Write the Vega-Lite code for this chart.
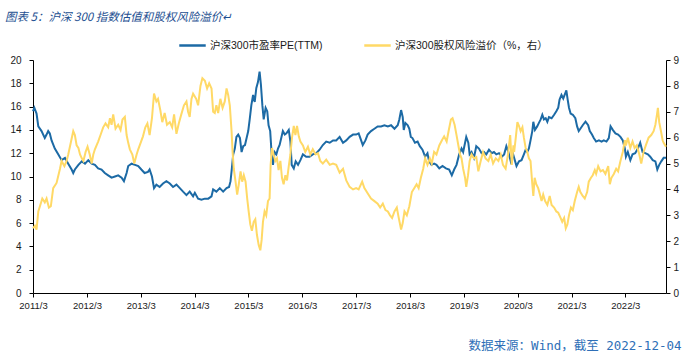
{
  "$schema": "https://vega.github.io/schema/vega-lite/v6.json",
  "autosize": {"type": "none"},
  "width": 633,
  "height": 233,
  "padding": {"left": 33, "top": 60, "right": 17, "bottom": 61},
  "background": "#ffffff",
  "config": {
    "view": {"stroke": null},
    "axis": {"grid": false, "domainColor": "#000000", "tickColor": "#000000", "labelColor": "#1a1a1a", "labelFont": "Liberation Sans", "labelFontSize": 10, "tickSize": 4, "domainWidth": 1, "tickWidth": 1}
  },
  "title": {
    "text": "图表 5：沪深 300 指数估值和股权风险溢价↵",
    "anchor": "start",
    "frame": "group",
    "dx": -28,
    "offset": 8,
    "font": "Noto Sans CJK SC",
    "fontStyle": "italic",
    "fontWeight": "normal",
    "fontSize": 11.5,
    "color": "#1d4f91"
  },
  "datasets": {
    "pe": [
      {"d": "2011-03-01", "v": 15.6}, {"d": "2011-03-10", "v": 15.9}, {"d": "2011-03-25", "v": 15.4}, {"d": "2011-04-06", "v": 14.3},
      {"d": "2011-04-28", "v": 13.9}, {"d": "2011-05-20", "v": 13.3}, {"d": "2011-06-01", "v": 13.6}, {"d": "2011-06-12", "v": 13.9},
      {"d": "2011-06-23", "v": 13.7}, {"d": "2011-07-05", "v": 13.1}, {"d": "2011-07-27", "v": 12.4}, {"d": "2011-08-19", "v": 11.9},
      {"d": "2011-09-11", "v": 11.4}, {"d": "2011-10-04", "v": 11.6}, {"d": "2011-10-26", "v": 11.1}, {"d": "2011-11-18", "v": 10.6},
      {"d": "2011-11-29", "v": 10.3}, {"d": "2011-12-10", "v": 10.6}, {"d": "2012-01-03", "v": 11.0}, {"d": "2012-01-26", "v": 11.3},
      {"d": "2012-02-17", "v": 11.1}, {"d": "2012-03-10", "v": 11.4}, {"d": "2012-04-02", "v": 11.1}, {"d": "2012-04-24", "v": 11.0},
      {"d": "2012-05-16", "v": 10.7}, {"d": "2012-06-08", "v": 10.6}, {"d": "2012-06-30", "v": 10.3}, {"d": "2012-07-23", "v": 10.1},
      {"d": "2012-08-15", "v": 9.9}, {"d": "2012-09-07", "v": 10.0}, {"d": "2012-09-29", "v": 10.1}, {"d": "2012-10-22", "v": 9.9},
      {"d": "2012-11-07", "v": 9.6}, {"d": "2012-11-25", "v": 10.3}, {"d": "2012-12-06", "v": 10.9}, {"d": "2012-12-29", "v": 11.1},
      {"d": "2013-01-21", "v": 11.0}, {"d": "2013-02-12", "v": 10.9}, {"d": "2013-03-05", "v": 10.6}, {"d": "2013-03-27", "v": 10.3},
      {"d": "2013-04-19", "v": 10.4}, {"d": "2013-04-30", "v": 10.6}, {"d": "2013-05-16", "v": 10.0}, {"d": "2013-05-30", "v": 9.0},
      {"d": "2013-06-15", "v": 9.3}, {"d": "2013-07-07", "v": 9.1}, {"d": "2013-07-30", "v": 9.4}, {"d": "2013-08-22", "v": 9.6},
      {"d": "2013-09-14", "v": 9.4}, {"d": "2013-10-06", "v": 9.1}, {"d": "2013-10-29", "v": 9.3}, {"d": "2013-11-21", "v": 9.0},
      {"d": "2013-12-13", "v": 8.7}, {"d": "2014-01-05", "v": 8.4}, {"d": "2014-01-27", "v": 8.7}, {"d": "2014-02-19", "v": 8.3},
      {"d": "2014-03-03", "v": 8.6}, {"d": "2014-03-25", "v": 8.1}, {"d": "2014-04-17", "v": 8.0}, {"d": "2014-05-10", "v": 8.1},
      {"d": "2014-06-02", "v": 8.1}, {"d": "2014-06-24", "v": 8.3}, {"d": "2014-07-05", "v": 8.9}, {"d": "2014-07-27", "v": 8.7},
      {"d": "2014-08-19", "v": 9.0}, {"d": "2014-09-11", "v": 8.7}, {"d": "2014-10-04", "v": 9.0}, {"d": "2014-10-21", "v": 9.1},
      {"d": "2014-10-31", "v": 9.6}, {"d": "2014-11-09", "v": 10.7}, {"d": "2014-11-18", "v": 11.9}, {"d": "2014-11-29", "v": 12.4},
      {"d": "2014-12-10", "v": 13.4}, {"d": "2014-12-22", "v": 13.6}, {"d": "2015-01-03", "v": 13.3}, {"d": "2015-01-14", "v": 12.1},
      {"d": "2015-01-25", "v": 12.6}, {"d": "2015-02-06", "v": 12.7}, {"d": "2015-02-17", "v": 13.3}, {"d": "2015-02-28", "v": 13.9},
      {"d": "2015-03-10", "v": 14.9}, {"d": "2015-03-21", "v": 16.1}, {"d": "2015-04-02", "v": 17.0}, {"d": "2015-04-13", "v": 16.4},
      {"d": "2015-04-24", "v": 17.6}, {"d": "2015-05-05", "v": 18.1}, {"d": "2015-05-16", "v": 19.0}, {"d": "2015-05-25", "v": 17.9},
      {"d": "2015-06-04", "v": 16.1}, {"d": "2015-06-13", "v": 14.9}, {"d": "2015-06-26", "v": 15.9}, {"d": "2015-07-07", "v": 15.6},
      {"d": "2015-07-16", "v": 14.4}, {"d": "2015-07-27", "v": 13.9}, {"d": "2015-08-06", "v": 11.9}, {"d": "2015-08-15", "v": 11.0},
      {"d": "2015-08-26", "v": 12.1}, {"d": "2015-09-07", "v": 11.9}, {"d": "2015-09-18", "v": 12.4}, {"d": "2015-09-29", "v": 12.7},
      {"d": "2015-10-10", "v": 13.3}, {"d": "2015-10-21", "v": 13.9}, {"d": "2015-11-03", "v": 13.6}, {"d": "2015-11-14", "v": 13.7},
      {"d": "2015-11-30", "v": 14.0}, {"d": "2015-12-11", "v": 13.0}, {"d": "2015-12-20", "v": 11.0}, {"d": "2016-01-03", "v": 10.7},
      {"d": "2016-01-16", "v": 11.3}, {"d": "2016-02-01", "v": 11.0}, {"d": "2016-02-17", "v": 11.4}, {"d": "2016-03-05", "v": 11.9},
      {"d": "2016-03-27", "v": 11.7}, {"d": "2016-04-19", "v": 11.7}, {"d": "2016-05-11", "v": 11.9}, {"d": "2016-06-04", "v": 12.0},
      {"d": "2016-06-26", "v": 12.3}, {"d": "2016-07-18", "v": 12.7}, {"d": "2016-08-10", "v": 13.0}, {"d": "2016-09-03", "v": 12.9},
      {"d": "2016-09-25", "v": 13.1}, {"d": "2016-10-17", "v": 13.1}, {"d": "2016-11-09", "v": 13.4}, {"d": "2016-12-02", "v": 12.9},
      {"d": "2016-12-24", "v": 13.1}, {"d": "2017-01-16", "v": 13.4}, {"d": "2017-02-08", "v": 13.6}, {"d": "2017-03-01", "v": 13.6},
      {"d": "2017-03-18", "v": 13.7}, {"d": "2017-04-04", "v": 13.1}, {"d": "2017-04-15", "v": 12.7}, {"d": "2017-05-03", "v": 13.1},
      {"d": "2017-05-18", "v": 13.6}, {"d": "2017-06-10", "v": 13.9}, {"d": "2017-07-03", "v": 14.1}, {"d": "2017-07-25", "v": 14.3},
      {"d": "2017-08-17", "v": 14.3}, {"d": "2017-09-09", "v": 14.4}, {"d": "2017-10-02", "v": 14.3}, {"d": "2017-10-24", "v": 14.4},
      {"d": "2017-11-16", "v": 14.1}, {"d": "2017-12-08", "v": 14.4}, {"d": "2017-12-19", "v": 14.9}, {"d": "2017-12-31", "v": 15.7},
      {"d": "2018-01-11", "v": 15.1}, {"d": "2018-01-18", "v": 14.0}, {"d": "2018-01-29", "v": 14.6}, {"d": "2018-02-14", "v": 14.4},
      {"d": "2018-02-25", "v": 14.1}, {"d": "2018-03-07", "v": 13.4}, {"d": "2018-03-18", "v": 13.3}, {"d": "2018-04-04", "v": 12.9},
      {"d": "2018-04-22", "v": 13.0}, {"d": "2018-05-07", "v": 12.6}, {"d": "2018-05-25", "v": 12.3}, {"d": "2018-06-12", "v": 11.7},
      {"d": "2018-06-28", "v": 12.0}, {"d": "2018-07-09", "v": 11.3}, {"d": "2018-07-25", "v": 11.0}, {"d": "2018-08-12", "v": 11.1},
      {"d": "2018-08-28", "v": 11.0}, {"d": "2018-09-16", "v": 10.7}, {"d": "2018-10-08", "v": 10.9}, {"d": "2018-10-31", "v": 10.7},
      {"d": "2018-11-22", "v": 10.6}, {"d": "2018-12-10", "v": 10.1}, {"d": "2018-12-26", "v": 10.6}, {"d": "2019-01-11", "v": 11.0},
      {"d": "2019-01-29", "v": 11.9}, {"d": "2019-02-14", "v": 12.4}, {"d": "2019-02-25", "v": 12.1}, {"d": "2019-03-10", "v": 12.9},
      {"d": "2019-03-18", "v": 13.4}, {"d": "2019-04-01", "v": 12.9}, {"d": "2019-04-10", "v": 11.9}, {"d": "2019-04-23", "v": 12.1},
      {"d": "2019-05-09", "v": 11.6}, {"d": "2019-05-25", "v": 12.6}, {"d": "2019-06-12", "v": 12.4}, {"d": "2019-06-30", "v": 12.0},
      {"d": "2019-07-16", "v": 12.1}, {"d": "2019-08-01", "v": 11.9}, {"d": "2019-08-19", "v": 12.3}, {"d": "2019-09-07", "v": 12.0},
      {"d": "2019-09-22", "v": 12.1}, {"d": "2019-10-08", "v": 11.9}, {"d": "2019-10-26", "v": 12.0}, {"d": "2019-11-14", "v": 11.7},
      {"d": "2019-11-30", "v": 11.9}, {"d": "2019-12-15", "v": 12.6}, {"d": "2019-12-29", "v": 12.1}, {"d": "2020-01-14", "v": 11.3},
      {"d": "2020-01-30", "v": 11.9}, {"d": "2020-02-22", "v": 10.9}, {"d": "2020-03-10", "v": 11.3}, {"d": "2020-03-27", "v": 11.4},
      {"d": "2020-04-12", "v": 11.9}, {"d": "2020-04-24", "v": 12.3}, {"d": "2020-05-05", "v": 12.1}, {"d": "2020-05-16", "v": 12.4},
      {"d": "2020-05-27", "v": 13.1}, {"d": "2020-06-08", "v": 13.9}, {"d": "2020-06-15", "v": 14.7}, {"d": "2020-06-26", "v": 14.0},
      {"d": "2020-07-11", "v": 14.3}, {"d": "2020-07-23", "v": 14.6}, {"d": "2020-08-04", "v": 14.9}, {"d": "2020-08-15", "v": 15.3},
      {"d": "2020-08-26", "v": 14.9}, {"d": "2020-09-07", "v": 15.0}, {"d": "2020-09-18", "v": 14.7}, {"d": "2020-09-29", "v": 15.1},
      {"d": "2020-10-17", "v": 15.0}, {"d": "2020-11-03", "v": 15.3}, {"d": "2020-11-18", "v": 15.6}, {"d": "2020-12-01", "v": 15.9},
      {"d": "2020-12-10", "v": 16.6}, {"d": "2020-12-23", "v": 17.0}, {"d": "2021-01-04", "v": 16.7}, {"d": "2021-01-16", "v": 17.1},
      {"d": "2021-01-25", "v": 17.4}, {"d": "2021-02-03", "v": 16.6}, {"d": "2021-02-12", "v": 15.9}, {"d": "2021-02-23", "v": 15.4},
      {"d": "2021-03-10", "v": 15.3}, {"d": "2021-03-27", "v": 15.0}, {"d": "2021-04-08", "v": 14.3}, {"d": "2021-04-19", "v": 13.9},
      {"d": "2021-04-30", "v": 14.1}, {"d": "2021-05-16", "v": 14.4}, {"d": "2021-06-04", "v": 14.7}, {"d": "2021-06-22", "v": 14.4},
      {"d": "2021-07-03", "v": 13.9}, {"d": "2021-07-18", "v": 13.6}, {"d": "2021-07-30", "v": 13.3}, {"d": "2021-08-15", "v": 13.0},
      {"d": "2021-09-03", "v": 13.1}, {"d": "2021-09-21", "v": 13.0}, {"d": "2021-10-06", "v": 13.1}, {"d": "2021-10-24", "v": 13.0},
      {"d": "2021-11-09", "v": 13.3}, {"d": "2021-11-21", "v": 14.3}, {"d": "2021-12-06", "v": 14.0}, {"d": "2021-12-24", "v": 13.7},
      {"d": "2022-01-11", "v": 13.6}, {"d": "2022-01-27", "v": 13.4}, {"d": "2022-02-12", "v": 13.1}, {"d": "2022-02-26", "v": 12.4},
      {"d": "2022-03-05", "v": 11.7}, {"d": "2022-03-18", "v": 12.1}, {"d": "2022-04-04", "v": 11.4}, {"d": "2022-04-19", "v": 11.9},
      {"d": "2022-05-07", "v": 12.0}, {"d": "2022-05-25", "v": 12.4}, {"d": "2022-06-10", "v": 12.9}, {"d": "2022-06-26", "v": 12.1},
      {"d": "2022-07-14", "v": 12.0}, {"d": "2022-08-01", "v": 11.9}, {"d": "2022-08-17", "v": 11.7}, {"d": "2022-09-03", "v": 11.4},
      {"d": "2022-09-21", "v": 11.3}, {"d": "2022-10-04", "v": 10.6}, {"d": "2022-10-17", "v": 11.0}, {"d": "2022-10-31", "v": 11.3},
      {"d": "2022-11-16", "v": 11.6}, {"d": "2022-12-02", "v": 11.6}
    ],
    "erp": [
      {"d": "2011-03-01", "v": 2.5}, {"d": "2011-03-14", "v": 2.6}, {"d": "2011-03-25", "v": 2.45}, {"d": "2011-04-06", "v": 3.15},
      {"d": "2011-04-17", "v": 3.35}, {"d": "2011-05-03", "v": 3.65}, {"d": "2011-05-20", "v": 3.5}, {"d": "2011-06-01", "v": 3.65},
      {"d": "2011-06-17", "v": 3.3}, {"d": "2011-06-30", "v": 3.35}, {"d": "2011-07-16", "v": 4.05}, {"d": "2011-08-08", "v": 4.25},
      {"d": "2011-08-31", "v": 4.8}, {"d": "2011-09-11", "v": 5.1}, {"d": "2011-09-30", "v": 4.9}, {"d": "2011-10-15", "v": 5.1},
      {"d": "2011-10-26", "v": 5.35}, {"d": "2011-11-14", "v": 5.85}, {"d": "2011-11-29", "v": 6.25}, {"d": "2011-12-10", "v": 6.1},
      {"d": "2011-12-22", "v": 5.7}, {"d": "2012-01-03", "v": 5.6}, {"d": "2012-01-14", "v": 5.35}, {"d": "2012-01-26", "v": 5.2},
      {"d": "2012-02-06", "v": 5.1}, {"d": "2012-02-21", "v": 5.45}, {"d": "2012-03-05", "v": 5.65}, {"d": "2012-03-20", "v": 5.35},
      {"d": "2012-04-02", "v": 5.0}, {"d": "2012-04-13", "v": 5.35}, {"d": "2012-04-24", "v": 5.55}, {"d": "2012-05-16", "v": 5.85},
      {"d": "2012-06-04", "v": 6.15}, {"d": "2012-06-19", "v": 6.4}, {"d": "2012-07-05", "v": 6.55}, {"d": "2012-07-23", "v": 6.4},
      {"d": "2012-08-04", "v": 6.75}, {"d": "2012-08-15", "v": 6.5}, {"d": "2012-08-26", "v": 6.9}, {"d": "2012-09-11", "v": 6.35},
      {"d": "2012-09-29", "v": 6.5}, {"d": "2012-10-15", "v": 6.3}, {"d": "2012-10-28", "v": 6.7}, {"d": "2012-11-13", "v": 6.8},
      {"d": "2012-11-25", "v": 6.1}, {"d": "2012-12-06", "v": 5.8}, {"d": "2012-12-17", "v": 5.55}, {"d": "2013-01-03", "v": 5.35},
      {"d": "2013-01-16", "v": 5.0}, {"d": "2013-02-01", "v": 5.35}, {"d": "2013-02-12", "v": 5.55}, {"d": "2013-02-28", "v": 5.8},
      {"d": "2013-03-16", "v": 6.05}, {"d": "2013-04-01", "v": 6.4}, {"d": "2013-04-15", "v": 6.55}, {"d": "2013-04-30", "v": 6.1},
      {"d": "2013-05-16", "v": 6.75}, {"d": "2013-05-30", "v": 7.7}, {"d": "2013-06-15", "v": 7.4}, {"d": "2013-06-26", "v": 7.5},
      {"d": "2013-07-12", "v": 7.05}, {"d": "2013-07-25", "v": 6.6}, {"d": "2013-08-10", "v": 6.95}, {"d": "2013-08-26", "v": 6.5},
      {"d": "2013-09-14", "v": 6.6}, {"d": "2013-09-30", "v": 6.4}, {"d": "2013-10-13", "v": 6.9}, {"d": "2013-10-29", "v": 6.15},
      {"d": "2013-11-14", "v": 6.55}, {"d": "2013-12-01", "v": 6.9}, {"d": "2013-12-19", "v": 7.25}, {"d": "2014-01-05", "v": 7.4},
      {"d": "2014-01-16", "v": 7.0}, {"d": "2014-01-27", "v": 6.8}, {"d": "2014-02-08", "v": 7.5}, {"d": "2014-02-19", "v": 7.7},
      {"d": "2014-03-12", "v": 7.5}, {"d": "2014-03-25", "v": 7.25}, {"d": "2014-04-10", "v": 8.0}, {"d": "2014-04-23", "v": 8.3},
      {"d": "2014-05-10", "v": 8.2}, {"d": "2014-05-25", "v": 7.9}, {"d": "2014-06-08", "v": 8.1}, {"d": "2014-06-24", "v": 7.9},
      {"d": "2014-07-05", "v": 7.0}, {"d": "2014-07-16", "v": 6.95}, {"d": "2014-07-27", "v": 7.25}, {"d": "2014-08-08", "v": 6.95},
      {"d": "2014-08-23", "v": 7.5}, {"d": "2014-09-07", "v": 7.15}, {"d": "2014-09-22", "v": 7.4}, {"d": "2014-10-04", "v": 7.9},
      {"d": "2014-10-15", "v": 7.65}, {"d": "2014-10-26", "v": 7.25}, {"d": "2014-11-07", "v": 6.25}, {"d": "2014-11-14", "v": 5.45},
      {"d": "2014-11-22", "v": 4.8}, {"d": "2014-12-04", "v": 4.3}, {"d": "2014-12-15", "v": 3.8}, {"d": "2014-12-26", "v": 4.2},
      {"d": "2015-01-07", "v": 4.7}, {"d": "2015-01-18", "v": 4.3}, {"d": "2015-01-29", "v": 4.55}, {"d": "2015-02-10", "v": 4.3},
      {"d": "2015-02-21", "v": 3.65}, {"d": "2015-03-03", "v": 3.15}, {"d": "2015-03-14", "v": 2.65}, {"d": "2015-03-25", "v": 2.4},
      {"d": "2015-04-06", "v": 2.75}, {"d": "2015-04-17", "v": 2.85}, {"d": "2015-04-28", "v": 2.25}, {"d": "2015-05-10", "v": 1.85},
      {"d": "2015-05-21", "v": 1.65}, {"d": "2015-05-30", "v": 2.05}, {"d": "2015-06-08", "v": 2.75}, {"d": "2015-06-19", "v": 3.15},
      {"d": "2015-06-30", "v": 3.0}, {"d": "2015-07-12", "v": 3.55}, {"d": "2015-07-23", "v": 3.65}, {"d": "2015-07-30", "v": 4.95},
      {"d": "2015-08-08", "v": 5.6}, {"d": "2015-08-19", "v": 5.35}, {"d": "2015-08-31", "v": 5.1}, {"d": "2015-09-11", "v": 5.2},
      {"d": "2015-09-22", "v": 4.75}, {"d": "2015-10-04", "v": 5.1}, {"d": "2015-10-15", "v": 4.45}, {"d": "2015-10-26", "v": 4.2},
      {"d": "2015-11-07", "v": 4.55}, {"d": "2015-11-18", "v": 4.35}, {"d": "2015-11-30", "v": 4.9}, {"d": "2015-12-11", "v": 5.35},
      {"d": "2015-12-22", "v": 6.0}, {"d": "2016-01-03", "v": 6.45}, {"d": "2016-01-14", "v": 6.1}, {"d": "2016-01-25", "v": 6.45},
      {"d": "2016-02-06", "v": 6.05}, {"d": "2016-02-17", "v": 5.85}, {"d": "2016-03-05", "v": 5.7}, {"d": "2016-03-21", "v": 5.45},
      {"d": "2016-04-08", "v": 5.65}, {"d": "2016-04-24", "v": 5.35}, {"d": "2016-05-11", "v": 5.55}, {"d": "2016-05-30", "v": 5.35},
      {"d": "2016-06-15", "v": 5.4}, {"d": "2016-07-01", "v": 5.1}, {"d": "2016-07-18", "v": 5.0}, {"d": "2016-08-10", "v": 5.15},
      {"d": "2016-09-03", "v": 4.95}, {"d": "2016-09-25", "v": 5.0}, {"d": "2016-10-17", "v": 4.95}, {"d": "2016-11-09", "v": 4.65},
      {"d": "2016-12-02", "v": 4.8}, {"d": "2016-12-24", "v": 4.35}, {"d": "2017-01-16", "v": 4.1}, {"d": "2017-02-08", "v": 4.0},
      {"d": "2017-03-01", "v": 4.05}, {"d": "2017-03-18", "v": 4.0}, {"d": "2017-04-11", "v": 4.3}, {"d": "2017-04-26", "v": 4.05},
      {"d": "2017-05-18", "v": 3.85}, {"d": "2017-06-10", "v": 3.65}, {"d": "2017-07-03", "v": 3.55}, {"d": "2017-07-25", "v": 3.45},
      {"d": "2017-08-11", "v": 3.3}, {"d": "2017-08-29", "v": 3.45}, {"d": "2017-09-16", "v": 3.2}, {"d": "2017-10-02", "v": 3.15},
      {"d": "2017-10-17", "v": 3.0}, {"d": "2017-10-31", "v": 2.9}, {"d": "2017-11-16", "v": 3.15}, {"d": "2017-12-02", "v": 3.3},
      {"d": "2017-12-15", "v": 2.9}, {"d": "2017-12-31", "v": 2.45}, {"d": "2018-01-11", "v": 2.7}, {"d": "2018-01-23", "v": 3.15},
      {"d": "2018-02-08", "v": 3.0}, {"d": "2018-02-25", "v": 3.35}, {"d": "2018-03-14", "v": 3.9}, {"d": "2018-03-30", "v": 4.05},
      {"d": "2018-04-15", "v": 4.2}, {"d": "2018-04-29", "v": 4.05}, {"d": "2018-05-14", "v": 4.45}, {"d": "2018-05-30", "v": 4.8},
      {"d": "2018-06-12", "v": 5.2}, {"d": "2018-06-28", "v": 4.95}, {"d": "2018-07-14", "v": 5.2}, {"d": "2018-07-27", "v": 5.0},
      {"d": "2018-08-12", "v": 5.45}, {"d": "2018-08-28", "v": 5.35}, {"d": "2018-09-16", "v": 5.7}, {"d": "2018-10-04", "v": 5.9},
      {"d": "2018-10-19", "v": 6.05}, {"d": "2018-11-05", "v": 5.85}, {"d": "2018-11-18", "v": 6.25}, {"d": "2018-12-04", "v": 6.7},
      {"d": "2018-12-15", "v": 6.75}, {"d": "2018-12-29", "v": 6.5}, {"d": "2019-01-11", "v": 6.1}, {"d": "2019-01-25", "v": 5.65},
      {"d": "2019-02-04", "v": 5.35}, {"d": "2019-02-14", "v": 5.2}, {"d": "2019-02-25", "v": 4.8}, {"d": "2019-03-10", "v": 4.45},
      {"d": "2019-03-18", "v": 4.1}, {"d": "2019-03-30", "v": 4.55}, {"d": "2019-04-10", "v": 5.1}, {"d": "2019-04-23", "v": 5.35},
      {"d": "2019-05-09", "v": 5.2}, {"d": "2019-05-25", "v": 5.25}, {"d": "2019-06-08", "v": 4.7}, {"d": "2019-06-24", "v": 5.1},
      {"d": "2019-07-10", "v": 5.45}, {"d": "2019-07-27", "v": 5.2}, {"d": "2019-08-15", "v": 5.1}, {"d": "2019-08-31", "v": 5.35},
      {"d": "2019-09-16", "v": 5.0}, {"d": "2019-10-04", "v": 5.2}, {"d": "2019-10-22", "v": 5.1}, {"d": "2019-11-07", "v": 5.35},
      {"d": "2019-11-22", "v": 4.95}, {"d": "2019-12-10", "v": 4.8}, {"d": "2019-12-26", "v": 5.35}, {"d": "2020-01-10", "v": 6.1},
      {"d": "2020-01-21", "v": 4.95}, {"d": "2020-02-01", "v": 5.7}, {"d": "2020-02-06", "v": 5.45}, {"d": "2020-02-17", "v": 6.0},
      {"d": "2020-02-28", "v": 6.6}, {"d": "2020-03-10", "v": 6.45}, {"d": "2020-03-21", "v": 6.25}, {"d": "2020-04-02", "v": 6.4},
      {"d": "2020-04-12", "v": 6.0}, {"d": "2020-04-24", "v": 5.6}, {"d": "2020-05-05", "v": 5.45}, {"d": "2020-05-16", "v": 5.2},
      {"d": "2020-05-27", "v": 5.1}, {"d": "2020-06-08", "v": 4.2}, {"d": "2020-06-15", "v": 3.75}, {"d": "2020-06-24", "v": 4.45},
      {"d": "2020-07-05", "v": 4.2}, {"d": "2020-07-18", "v": 4.05}, {"d": "2020-07-30", "v": 3.8}, {"d": "2020-08-10", "v": 3.55},
      {"d": "2020-08-21", "v": 3.8}, {"d": "2020-09-03", "v": 3.55}, {"d": "2020-09-18", "v": 3.4}, {"d": "2020-10-04", "v": 3.75},
      {"d": "2020-10-17", "v": 3.4}, {"d": "2020-11-03", "v": 3.3}, {"d": "2020-11-18", "v": 3.15}, {"d": "2020-12-01", "v": 3.1},
      {"d": "2020-12-17", "v": 2.9}, {"d": "2020-12-28", "v": 2.75}, {"d": "2021-01-10", "v": 2.9}, {"d": "2021-01-21", "v": 2.5},
      {"d": "2021-02-01", "v": 2.65}, {"d": "2021-02-12", "v": 3.0}, {"d": "2021-02-25", "v": 3.3}, {"d": "2021-03-10", "v": 3.2},
      {"d": "2021-03-23", "v": 3.55}, {"d": "2021-04-08", "v": 3.9}, {"d": "2021-04-19", "v": 4.1}, {"d": "2021-04-30", "v": 3.9},
      {"d": "2021-05-16", "v": 3.75}, {"d": "2021-05-30", "v": 3.65}, {"d": "2021-06-15", "v": 3.9}, {"d": "2021-06-26", "v": 4.3},
      {"d": "2021-07-11", "v": 4.45}, {"d": "2021-07-23", "v": 4.55}, {"d": "2021-08-06", "v": 4.75}, {"d": "2021-08-15", "v": 4.6},
      {"d": "2021-08-29", "v": 4.9}, {"d": "2021-09-14", "v": 4.7}, {"d": "2021-09-30", "v": 4.75}, {"d": "2021-10-17", "v": 4.6},
      {"d": "2021-11-05", "v": 4.9}, {"d": "2021-11-16", "v": 4.2}, {"d": "2021-11-27", "v": 4.45}, {"d": "2021-12-13", "v": 4.6},
      {"d": "2021-12-29", "v": 4.8}, {"d": "2022-01-11", "v": 4.7}, {"d": "2022-01-27", "v": 5.1}, {"d": "2022-02-12", "v": 5.45},
      {"d": "2022-02-26", "v": 5.9}, {"d": "2022-03-05", "v": 5.7}, {"d": "2022-03-18", "v": 6.0}, {"d": "2022-04-04", "v": 5.6},
      {"d": "2022-04-19", "v": 5.85}, {"d": "2022-05-03", "v": 5.6}, {"d": "2022-05-18", "v": 5.7}, {"d": "2022-06-04", "v": 5.35},
      {"d": "2022-06-17", "v": 5.0}, {"d": "2022-07-03", "v": 5.45}, {"d": "2022-07-18", "v": 5.7}, {"d": "2022-08-06", "v": 6.0},
      {"d": "2022-08-24", "v": 6.1}, {"d": "2022-09-09", "v": 6.25}, {"d": "2022-09-21", "v": 6.5}, {"d": "2022-10-02", "v": 6.9},
      {"d": "2022-10-08", "v": 7.15}, {"d": "2022-10-17", "v": 6.6}, {"d": "2022-10-29", "v": 6.25}, {"d": "2022-11-09", "v": 5.9},
      {"d": "2022-11-16", "v": 5.8}, {"d": "2022-12-02", "v": 5.65}
    ]
  },
  "layer": [
    {
      "data": {"name": "pe"},
      "mark": {"type": "line", "strokeWidth": 2, "interpolate": "linear"},
      "encoding": {
        "x": {
          "field": "d", "type": "temporal",
          "scale": {"type": "utc", "domain": [{"year": 2011, "month": 3, "date": 1, "utc": true}, {"year": 2022, "month": 12, "date": 2, "utc": true}]},
          "axis": {
            "format": "%Y/%-m", "labelFontSize": 9.5, "labelPadding": 3, "labelFlush": false, "labelOverlap": false,
            "values": [
              {"year": 2011, "month": 3, "date": 1, "utc": true}, {"year": 2012, "month": 3, "date": 1, "utc": true},
              {"year": 2013, "month": 3, "date": 1, "utc": true}, {"year": 2014, "month": 3, "date": 1, "utc": true},
              {"year": 2015, "month": 3, "date": 1, "utc": true}, {"year": 2016, "month": 3, "date": 1, "utc": true},
              {"year": 2017, "month": 3, "date": 1, "utc": true}, {"year": 2018, "month": 3, "date": 1, "utc": true},
              {"year": 2019, "month": 3, "date": 1, "utc": true}, {"year": 2020, "month": 3, "date": 1, "utc": true},
              {"year": 2021, "month": 3, "date": 1, "utc": true}, {"year": 2022, "month": 3, "date": 1, "utc": true}
            ],
            "title": "数据来源：Wind，截至 2022-12-04",
            "titleFont": "DejaVu Sans Mono, Noto Sans CJK SC",
            "titleFontSize": 12.5,
            "titleFontWeight": "normal",
            "titleColor": "#2e6fb7",
            "titleAlign": "right",
            "titleBaseline": "middle",
            "titleX": 648,
            "titleY": 52
          }
        },
        "y": {
          "field": "v", "type": "quantitative",
          "scale": {"domain": [0, 20], "nice": false, "zero": true},
          "axis": {"orient": "left", "values": [0, 2, 4, 6, 8, 10, 12, 14, 16, 18, 20], "labelPadding": 8, "title": null}
        },
        "color": {
          "datum": "沪深300市盈率PE(TTM)",
          "scale": {"domain": ["沪深300市盈率PE(TTM)", "沪深300股权风险溢价（%，右）"], "range": ["#1c6aa5", "#ffd966"]},
          "legend": {
            "title": null, "orient": "none", "legendX": 145, "legendY": -29, "direction": "horizontal",
            "symbolType": "stroke", "symbolSize": 700, "symbolStrokeWidth": 2.5,
            "labelFont": "Liberation Sans, Noto Sans CJK SC", "labelFontSize": 10.5, "labelColor": "#1a1a1a",
            "labelOffset": 3, "columnPadding": 36
          }
        }
      }
    },
    {
      "data": {"name": "erp"},
      "mark": {"type": "line", "strokeWidth": 2, "interpolate": "linear"},
      "encoding": {
        "x": {"field": "d", "type": "temporal"},
        "y": {
          "field": "v", "type": "quantitative",
          "scale": {"domain": [0, 9], "nice": false, "zero": true},
          "axis": {"orient": "right", "values": [0, 1, 2, 3, 4, 5, 6, 7, 8, 9], "labelPadding": 3, "title": null}
        },
        "color": {"datum": "沪深300股权风险溢价（%，右）"}
      }
    }
  ],
  "resolve": {"scale": {"y": "independent"}}
}
